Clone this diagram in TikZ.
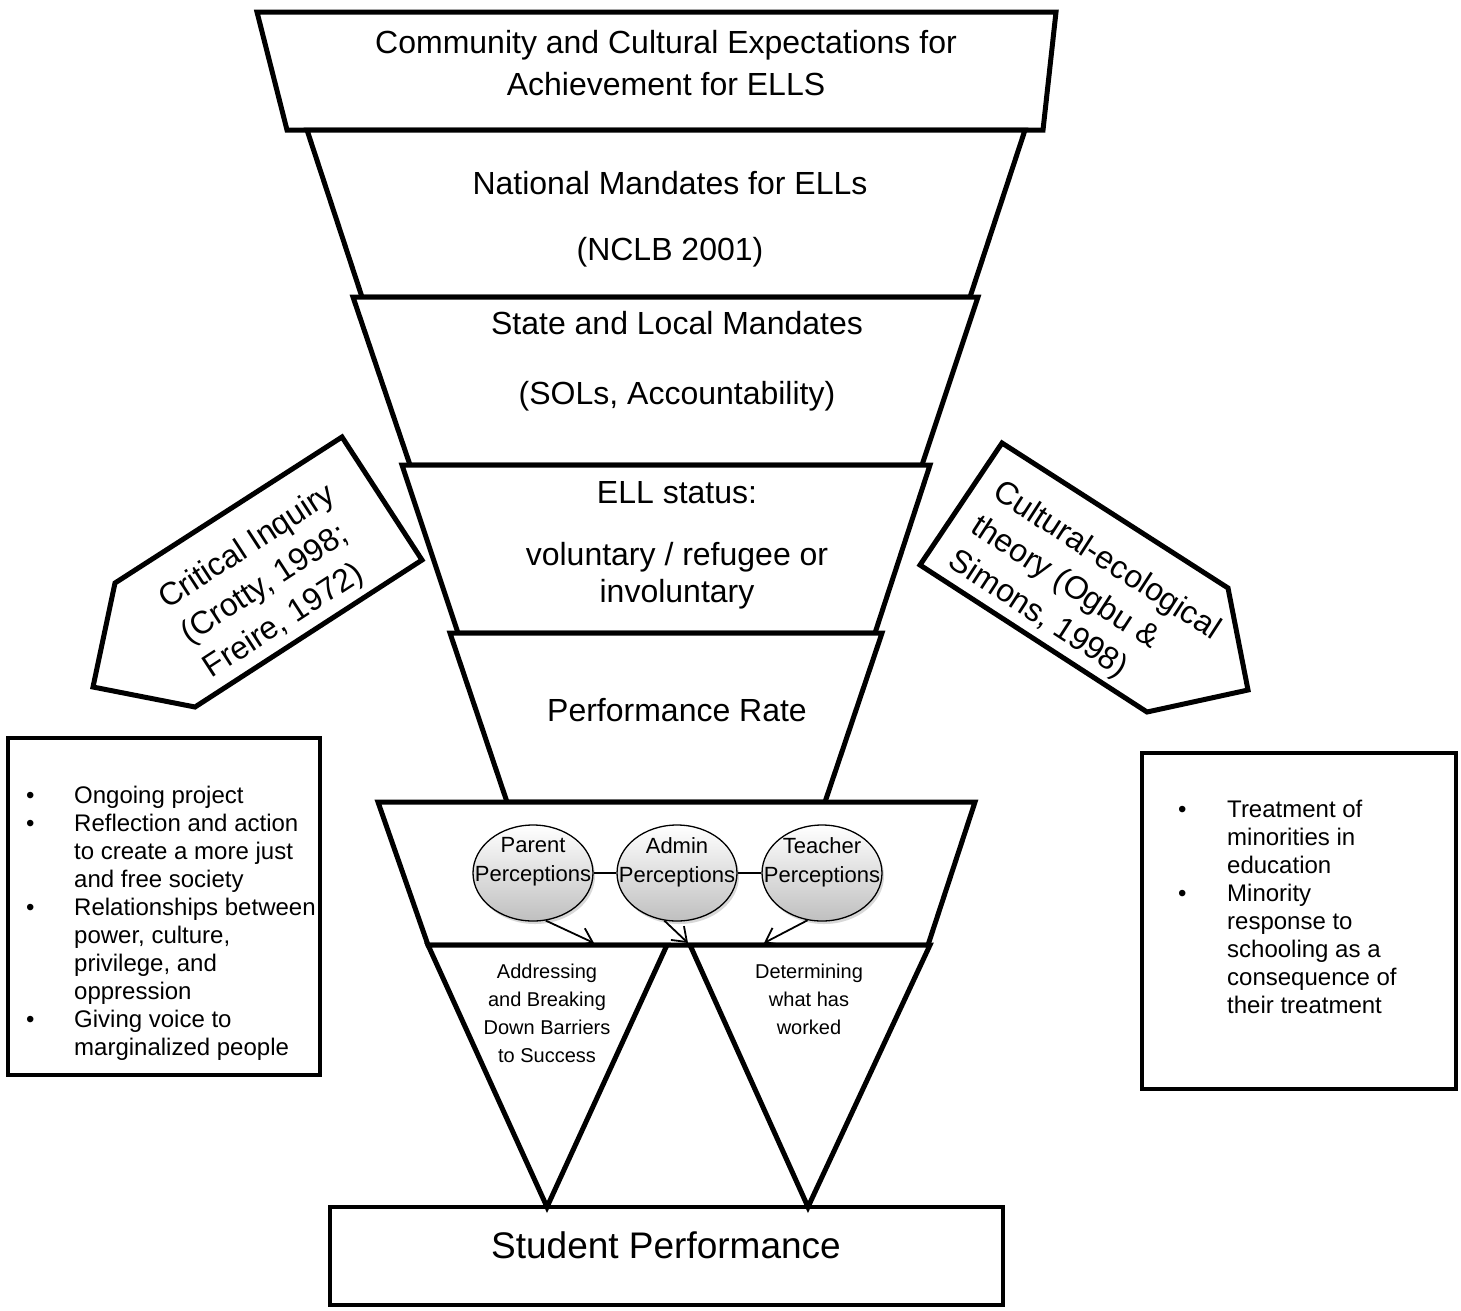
\documentclass[tikz,border=0pt]{standalone}
\usepackage{fontspec}
\setmainfont{Liberation Sans}
\usetikzlibrary{shapes.geometric,shadows,arrows.meta}

\begin{document}
\begin{tikzpicture}[x=1pt,y=-1pt,
  level/.style={draw=black,line width=5pt,fill=white},
  listbox/.style={draw=black,line width=4pt},
  big/.style={font=\fontsize{32}{38}\selectfont,align=center},
  small/.style={font=\fontsize{20}{28}\selectfont,align=center},
  slanted/.style={font=\fontsize{32}{41}\selectfont,align=left},
  listtext/.style={anchor=north west,inner sep=0pt,font=\fontsize{24}{28}\selectfont},
  perc/.style={ellipse,draw=black,line width=1.3pt,minimum width=120pt,minimum height=96pt,inner sep=0pt,
    top color=white,bottom color=gray!50,
    drop shadow={opacity=0.3,shadow xshift=2pt,shadow yshift=-3pt}},
  perctext/.style={font=\fontsize{22}{29}\selectfont,align=center,inner sep=0pt},
  percarrow/.style={-{Straight Barb[length=13pt,width=19pt]},line width=1.8pt},
]
\useasboundingbox (0,0) rectangle (1461,1310);

\draw[level] (257,12) -- (1056,12) -- (1043,130) -- (287,130) -- cycle;
\draw[level] (307,130) -- (1025,130) -- (970,297) -- (362,297) -- cycle;
\draw[level] (353,297) -- (978,297) -- (922,465) -- (410,465) -- cycle;
\draw[level] (402,465) -- (930,465) -- (875,633) -- (458,633) -- cycle;
\draw[level] (450,633) -- (882,633) -- (825,802) -- (507,802) -- cycle;
\draw[level] (378,802) -- (975,802) -- (928,945) -- (428,945) -- cycle;
\draw[level] (428,945) -- (667,945) -- (547,1207) -- cycle;
\draw[level] (690,945) -- (930,945) -- (808,1207) -- cycle;

\node[big] (community) at (666,63) {Community and Cultural Expectations for\\[4pt]Achievement for ELLS};
\node[big] (national) at (670,219) {National Mandates for ELLs\\[28pt](NCLB 2001)};
\node[big] (state) at (677,361) {State and Local Mandates\\[32pt](SOLs, Accountability)};
\node[big] (status) at (677,545) {ELL status:\\[24pt]voluntary / refugee or\\[-1pt]involuntary};
\node[big] (rate) at (677,710) {Performance Rate};

\node[small] (barriers) at (547,1013) {Addressing\\and Breaking\\Down Barriers\\to Success};
\node[small] (worked) at (809,999) {Determining\\what has\\worked};

\node[perc] (parent) at (533,873) {};
\node[perc] (admin) at (677,873) {};
\node[perc] (teacher) at (822,873) {};
\node[perctext] (parentlabel) at ([yshift=11pt]parent.center) {Parent\\Perceptions};
\node[perctext] (adminlabel) at ([yshift=11pt]admin.center) {Admin\\Perceptions};
\node[perctext] (teacherlabel) at ([yshift=11pt]teacher.center) {Teacher\\Perceptions};
\draw[line width=1.3pt] (parent) -- (admin);
\draw[line width=1.3pt] (admin) -- (teacher);
\coordinate (ptip) at (594,943);
\coordinate (atip) at (688,943);
\coordinate (ttip) at (764,943);
\draw[percarrow] (parent.-75) -- (ptip);
\draw[percarrow] (admin.-105) -- (atip);
\draw[percarrow] (teacher.-107) -- (ttip);

\draw[listbox] (330,1207) rectangle (1003,1305);
\node[font=\fontsize{37}{44}\selectfont] (student) at (666,1245) {Student Performance};

\draw[level] (115,583) -- (342,437) -- (422,560) -- (195,707) -- (93,687) -- cycle;
\node[slanted,rotate=33] (inquiry) at (270,582)
  {Critical Inquiry\\(Crotty, 1998;\\Freire, 1972)};
\draw[level] (920,565) -- (1002,443) -- (1228,588) -- (1248,690) -- (1147,712) -- cycle;
\node[slanted,rotate=-33] (ecological) at (1084,596)
  {Cultural-ecological\\theory (Ogbu \&\\Simons, 1998)};

\draw[listbox] (8,738) rectangle (320,1075);
\node[listtext] (inquirylist) at (26,784) {\begin{tabular}{@{}p{48pt}@{}l@{}}
\textbullet & Ongoing project\\
\textbullet & Reflection and action\\
 & to create a more just\\
 & and free society\\
\textbullet & Relationships between\\
 & power, culture,\\
 & privilege, and\\
 & oppression\\
\textbullet & Giving voice to\\
 & marginalized people
\end{tabular}};

\draw[listbox] (1142,753) rectangle (1456,1089);
\node[listtext] (ecolist) at (1178,798) {\begin{tabular}{@{}p{49pt}@{}l@{}}
\textbullet & Treatment of\\
 & minorities in\\
 & education\\
\textbullet & Minority\\
 & response to\\
 & schooling as a\\
 & consequence of\\
 & their treatment
\end{tabular}};
\end{tikzpicture}
\end{document}
